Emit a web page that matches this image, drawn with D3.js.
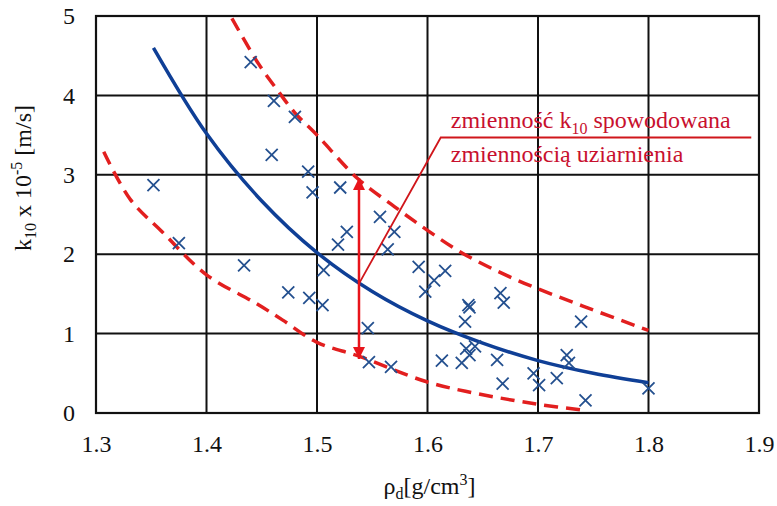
<!DOCTYPE html>
<html>
<head>
<meta charset="utf-8">
<script src="https://cdn.jsdelivr.net/npm/d3@7"></script>
<style>
  body { margin: 0; background: #fff; }
  svg text { font-family: 'Liberation Serif', 'Times New Roman', Times, serif; }
</style>
</head>
<body>
<svg id="chart"></svg>
<script>
// measured points: density [g/cm3] and k10 x 10^-5 [m/s]
var densX = [1.352, 1.375, 1.434, 1.440, 1.461, 1.480, 1.459, 1.492, 1.496, 1.521,
  1.474, 1.493, 1.557, 1.570, 1.527, 1.519, 1.564, 1.506, 1.505, 1.592,
  1.616, 1.606, 1.598, 1.637, 1.638, 1.634, 1.546, 1.547, 1.567, 1.613,
  1.631, 1.635, 1.638, 1.643, 1.663, 1.666, 1.669, 1.668, 1.739, 1.696,
  1.701, 1.717, 1.726, 1.728, 1.743, 1.800];
var kY = [2.87, 2.14, 1.86, 4.42, 3.93, 3.73, 3.25, 3.04, 2.78, 2.84,
  1.52, 1.45, 2.47, 2.28, 2.28, 2.12, 2.06, 1.80, 1.36, 1.84,
  1.79, 1.67, 1.53, 1.36, 1.33, 1.15, 1.07, 0.64, 0.58, 0.66,
  0.63, 0.81, 0.73, 0.84, 0.67, 1.51, 1.39, 0.37, 1.15, 0.50,
  0.35, 0.44, 0.73, 0.63, 0.16, 0.31];

// trend line
var trendX = [1.352, 1.40, 1.45, 1.50, 1.55, 1.60, 1.65, 1.70, 1.75, 1.80];
var trendY = [4.60, 3.52, 2.67, 2.02, 1.53, 1.16, 0.88, 0.66, 0.50, 0.38];

// upper and lower envelope (dashed)
var upperX = [1.423, 1.447, 1.464, 1.48, 1.50, 1.537, 1.57, 1.60, 1.632, 1.68, 1.74, 1.80];
var upperY = [4.97, 4.40, 4.07, 3.78, 3.50, 2.95, 2.60, 2.30, 2.01, 1.68, 1.35, 1.04];
var lowerX = [1.307, 1.331, 1.36, 1.40, 1.445, 1.469, 1.50, 1.539, 1.60, 1.65, 1.70, 1.744];
var lowerY = [3.29, 2.69, 2.28, 1.74, 1.38, 1.17, 0.89, 0.71, 0.39, 0.23, 0.11, 0.03];

// annotation
var arrowX = 1.538;
var arrowY = [0.68, 2.96];
var leaderX = [1.538, 1.612, 1.893];
var leaderY = [1.63, 3.47, 3.47];
var noteLines = ['zmienność k', 'zmiennością uziarnienia'];

var xTicks = [1.3, 1.4, 1.5, 1.6, 1.7, 1.8, 1.9];
var yTicks = [0, 1, 2, 3, 4, 5];

var width = 777, height = 506;
var mLeft = 96, mRight = 759, mTop = 16, mBottom = 413;

var svg = d3.select('#chart')
  .attr('width', width)
  .attr('height', height);

var x = d3.scaleLinear().domain([1.3, 1.9]).range([mLeft, mRight]);
var y = d3.scaleLinear().domain([0, 5]).range([mBottom, mTop]);

// grid
svg.append('g')
  .selectAll('line')
  .data(xTicks)
  .enter()
  .append('line')
  .attr('x1', d => x(d)).attr('x2', d => x(d))
  .attr('y1', mTop).attr('y2', mBottom)
  .attr('stroke', '#111').attr('stroke-width', 2);

svg.append('g')
  .selectAll('line')
  .data(yTicks)
  .enter()
  .append('line')
  .attr('x1', mLeft).attr('x2', mRight)
  .attr('y1', d => y(d)).attr('y2', d => y(d))
  .attr('stroke', '#111').attr('stroke-width', 2);

// tick labels
var xAxis = svg.append('g')
  .attr('transform', 'translate(0,' + mBottom + ')')
  .call(d3.axisBottom(x).tickValues(xTicks).tickSize(0).tickPadding(22).tickFormat(d3.format('.1f')));
var yAxis = svg.append('g')
  .attr('transform', 'translate(' + mLeft + ',0)')
  .call(d3.axisLeft(y).tickValues(yTicks).tickSize(0).tickPadding(21).tickFormat(d3.format('d')));
[xAxis, yAxis].forEach(a => {
  a.attr('font-family', null).attr('font-size', null);
  a.select('.domain').remove();
  a.selectAll('text')
    .attr('font-size', 24)
    .attr('fill', '#111');
});

var line = d3.line()
  .x(d => x(d[0]))
  .y(d => y(d[1]))
  .curve(d3.curveCatmullRom);

// dashed envelopes
[[upperX, upperY], [lowerX, lowerY]].forEach(s => {
  svg.append('path')
    .datum(s[0].map((v, i) => [v, s[1][i]]))
    .attr('d', line)
    .attr('fill', 'none')
    .attr('stroke', '#e21f1f')
    .attr('stroke-width', 3.5)
    .attr('stroke-dasharray', '14,8');
});

// trend
svg.append('path')
  .datum(trendX.map((v, i) => [v, trendY[i]]))
  .attr('d', line)
  .attr('fill', 'none')
  .attr('stroke', '#0f3f96')
  .attr('stroke-width', 3.5);

// crosses
var s = 6;
svg.append('g')
  .selectAll('path')
  .data(densX.map((v, i) => [v, kY[i]]))
  .enter()
  .append('path')
  .attr('d', d => {
    var cx = x(d[0]), cy = y(d[1]);
    return 'M' + (cx - s) + ',' + (cy - s) + 'L' + (cx + s) + ',' + (cy + s) +
      'M' + (cx - s) + ',' + (cy + s) + 'L' + (cx + s) + ',' + (cy - s);
  })
  .attr('stroke', '#24508f')
  .attr('stroke-width', 1.8);

// leader line
svg.append('path')
  .datum(leaderX.map((v, i) => [v, leaderY[i]]))
  .attr('d', d3.line().x(d => x(d[0])).y(d => y(d[1])))
  .attr('fill', 'none')
  .attr('stroke', '#d0161b')
  .attr('stroke-width', 1.8);

// double arrow
var defs = svg.append('defs');
defs.append('marker')
  .attr('id', 'head')
  .attr('viewBox', '0 0 10 10')
  .attr('refX', 10).attr('refY', 5)
  .attr('markerWidth', 13).attr('markerHeight', 12)
  .attr('markerUnits', 'userSpaceOnUse')
  .attr('orient', 'auto-start-reverse')
  .append('path')
  .attr('d', 'M0,0L10,5L0,10Z')
  .attr('fill', '#e8141b');

svg.append('line')
  .attr('x1', x(arrowX)).attr('x2', x(arrowX))
  .attr('y1', y(arrowY[0])).attr('y2', y(arrowY[1]))
  .attr('stroke', '#e8141b')
  .attr('stroke-width', 2.5)
  .attr('marker-start', 'url(#head)')
  .attr('marker-end', 'url(#head)');

// note text
var tx = x(leaderX[1]) + 10;
var t1 = svg.append('text')
  .attr('x', tx).attr('y', y(leaderY[1]) - 9)
  .attr('font-size', 24)
  .attr('fill', '#c8102e');
t1.append('tspan').text(noteLines[0]);
t1.append('tspan').attr('font-size', 16).attr('dy', 6).text('10');
t1.append('tspan').attr('dy', -6).text(' spowodowana');

svg.append('text')
  .attr('x', tx).attr('y', y(leaderY[1]) + 25)
  .attr('font-size', 24)
  .attr('fill', '#c8102e')
  .text(noteLines[1]);

// frame
svg.append('rect')
  .attr('x', mLeft).attr('y', mTop)
  .attr('width', mRight - mLeft).attr('height', mBottom - mTop)
  .attr('fill', 'none')
  .attr('stroke', '#111')
  .attr('stroke-width', 2.2);

// axis titles
var xt = svg.append('text')
  .attr('x', (mLeft + mRight) / 2 + 2)
  .attr('y', 494)
  .attr('text-anchor', 'middle')
  .attr('font-size', 24)
  .attr('fill', '#111');
xt.append('tspan').text('ρ');
xt.append('tspan').attr('font-size', 16).attr('dy', 5).text('d');
xt.append('tspan').attr('dy', -5).text('[g/cm');
xt.append('tspan').attr('font-size', 16).attr('dy', -9).text('3');
xt.append('tspan').attr('dy', 9).text(']');

var yt = svg.append('text')
  .attr('transform', 'translate(31,178) rotate(-90)')
  .attr('text-anchor', 'middle')
  .attr('font-size', 24)
  .attr('fill', '#111');
yt.append('tspan').text('k');
yt.append('tspan').attr('font-size', 16).attr('dy', 5).text('10');
yt.append('tspan').attr('dy', -5).text(' x 10');
yt.append('tspan').attr('font-size', 16).attr('dy', -9).text('-5');
yt.append('tspan').attr('dy', 9).text(' [m/s]');
</script>
</body>
</html>
